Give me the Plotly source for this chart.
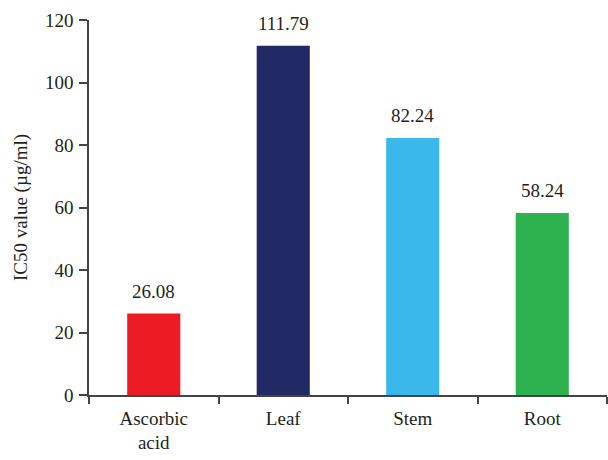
import plotly.graph_objects as go

# IC50 values for the reference antioxidant and the plant extracts
categories = ["Ascorbic<br>acid", "Leaf", "Stem", "Root"]
ic50_values = [26.08, 111.79, 82.24, 58.24]
value_labels = ["26.08", "111.79", "82.24", "58.24"]
bar_colors = ["#ED1C24", "#212A64", "#3BB8EB", "#2EB24F"]
y_ticks = [0, 20, 40, 60, 80, 100, 120]

font_family = "Liberation Serif, DejaVu Serif, serif"
text_color = "#231F20"
axis_color = "#444444"
fsize = 19

fig = go.Figure(
    go.Bar(
        x=categories,
        y=ic50_values,
        marker=dict(color=bar_colors, line=dict(width=0)),
        width=0.41,
        showlegend=False,
        hoverinfo="skip",
    )
)

for cat, val, lab in zip(categories, ic50_values, value_labels):
    fig.add_annotation(
        x=cat, y=val, text=lab, showarrow=False,
        yanchor="bottom", yshift=10,
        font=dict(family=font_family, size=fsize, color=text_color),
    )

fig.update_layout(
    width=608, height=460,
    margin=dict(l=89, r=1, t=20, b=65),
    paper_bgcolor="white", plot_bgcolor="white",
    font=dict(family=font_family, size=fsize, color=text_color),
)

fig.update_xaxes(
    range=[-0.5, 3.5],
    showline=True, linecolor=axis_color, linewidth=1.5,
    ticks="outside", tickson="boundaries", ticklen=7, tickwidth=1.5, tickcolor=axis_color,
    showgrid=False, zeroline=False, ticklabelstandoff=5,
    tickfont=dict(family=font_family, size=fsize, color=text_color),
)

fig.update_yaxes(
    range=[0, 120],
    tickvals=y_ticks,
    showline=True, linecolor=axis_color, linewidth=1.5,
    ticks="outside", ticklen=8, tickwidth=1.5, tickcolor=axis_color,
    showgrid=False, zeroline=False, ticklabelstandoff=2,
    tickfont=dict(family=font_family, size=fsize, color=text_color),
    title=dict(text="IC50 value (µg/ml)", standoff=12,
               font=dict(family=font_family, size=fsize, color=text_color)),
)

fig.write_html("out.html")
